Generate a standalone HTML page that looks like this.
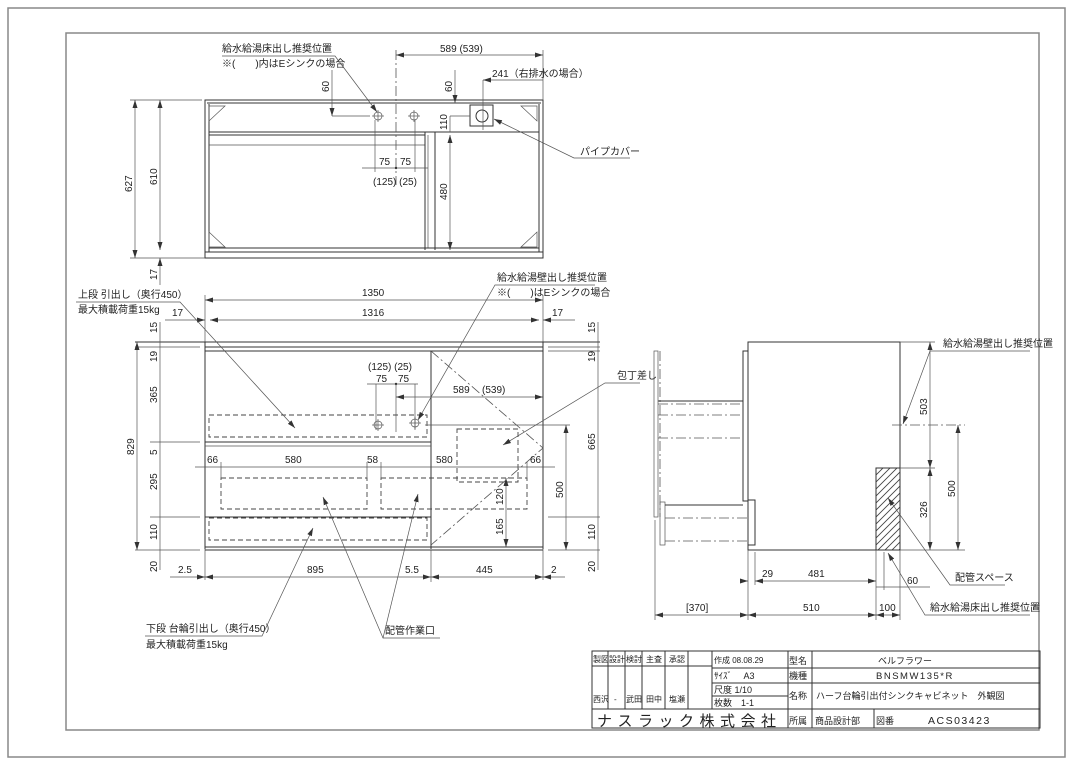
<!DOCTYPE html>
<html><head><meta charset="utf-8"><style>
html,body{margin:0;padding:0;background:#fff;}
svg{display:block;}
text{font-family:"Liberation Sans","Noto Sans CJK JP",sans-serif;font-size:10px;fill:#222;}
.s{stroke:#333;stroke-width:1;fill:none;}
.t{stroke:#555;stroke-width:0.7;fill:none;}
.d{stroke:#444;stroke-width:0.9;fill:none;stroke-dasharray:5,3;}
.dd{stroke:#555;stroke-width:0.8;fill:none;stroke-dasharray:10,3,2,3;}
.g{stroke:#888;stroke-width:1.5;fill:none;}
</style></head><body>
<svg width="1080" height="764" viewBox="0 0 1080 764" xmlns="http://www.w3.org/2000/svg">
<defs>
<marker id="a" markerWidth="8" markerHeight="6" refX="8" refY="3" orient="auto-start-reverse" markerUnits="userSpaceOnUse"><path d="M0,0.5 L8,3 L0,5.5z" fill="#333"/></marker>
<pattern id="h" x="0" y="0" width="7" height="7" patternUnits="userSpaceOnUse"><path d="M0,7 L7,0 M-1,1 L1,-1 M6,8 L8,6" stroke="#444" stroke-width="0.9"/></pattern>
</defs>
<rect x="8" y="8" width="1057" height="749" class="g"/>
<rect x="66" y="33" width="973" height="697" class="g"/>

<!-- ===== TOP VIEW ===== -->
<rect x="205" y="100" width="338" height="158" class="s"/>
<line x1="207" y1="103" x2="541" y2="103" class="s" stroke-width="2"/>
<line x1="209" y1="104" x2="209" y2="252" class="s"/>
<line x1="539" y1="104" x2="539" y2="252" class="s"/>
<line x1="209" y1="132" x2="539" y2="132" class="s"/>
<line x1="209" y1="135" x2="425" y2="135" class="s"/>
<line x1="209" y1="145" x2="425" y2="145" class="t"/>
<line x1="425" y1="132" x2="425" y2="250" class="s"/>
<line x1="428" y1="135" x2="428" y2="248" class="t"/>
<line x1="435" y1="132" x2="435" y2="250" class="s"/>
<line x1="209" y1="248" x2="539" y2="248" class="s"/>
<line x1="205" y1="252" x2="543" y2="252" class="s"/>
<path d="M209,106 L225,106 L209,121z M537,106 L521,106 L537,121z M209,247 L225,247 L209,232z M537,247 L521,247 L537,232z" class="t"/>
<g class="t"><circle cx="378" cy="116" r="4"/><line x1="372" y1="116" x2="384" y2="116"/><line x1="378" y1="110" x2="378" y2="122"/>
<circle cx="414" cy="116" r="4"/><line x1="408" y1="116" x2="420" y2="116"/><line x1="414" y1="110" x2="414" y2="122"/></g>
<rect x="470" y="105" width="23" height="21" class="s"/><circle cx="482" cy="116" r="6" class="s"/>
<line x1="396" y1="50" x2="396" y2="185" class="dd"/>
<line x1="543" y1="50" x2="543" y2="100" class="t"/>
<line x1="396" y1="55" x2="543" y2="55" class="t" marker-start="url(#a)" marker-end="url(#a)"/>
<text x="440" y="52">589 (539)</text>
<line x1="483" y1="80" x2="483" y2="130" class="t"/>
<line x1="483" y1="80" x2="543" y2="80" class="t" marker-start="url(#a)"/>
<text x="492" y="77">241（右排水の場合）</text>
<line x1="332" y1="70" x2="332" y2="116" class="t" marker-end="url(#a)"/>
<line x1="332" y1="116" x2="370" y2="116" class="t"/>
<text transform="translate(329,92) rotate(-90)">60</text>
<line x1="455" y1="70" x2="455" y2="103" class="t" marker-end="url(#a)"/>
<text transform="translate(452,92) rotate(-90)">60</text>
<line x1="450" y1="116" x2="470" y2="116" class="t"/>
<line x1="450" y1="116" x2="450" y2="132" class="t"/>
<text transform="translate(447,130) rotate(-90)">110</text>
<line x1="450" y1="135" x2="450" y2="250" class="t" marker-start="url(#a)" marker-end="url(#a)"/>
<text transform="translate(447,200) rotate(-90)">480</text>
<line x1="375" y1="120" x2="375" y2="172" class="t"/>
<line x1="415" y1="120" x2="415" y2="172" class="t"/>
<line x1="362" y1="168" x2="428" y2="168" class="t"/>
<circle cx="396" cy="168" r="1.2" fill="#333"/>
<text x="379" y="165">75</text><text x="400" y="165">75</text>
<text x="373" y="185">(125) (25)</text>
<text x="222" y="52">給水給湯床出し推奨位置</text>
<text x="222" y="67">※(　　)内はEシンクの場合</text>
<polyline points="222,56 335,56 377,112" class="t" marker-end="url(#a)"/>
<polyline points="630,158 574,158 494,119" class="t" marker-end="url(#a)"/>
<text x="580" y="155">パイプカバー</text>
<line x1="130" y1="100" x2="202" y2="100" class="t"/>
<line x1="130" y1="258" x2="205" y2="258" class="t"/>
<line x1="135" y1="100" x2="135" y2="258" class="t" marker-start="url(#a)" marker-end="url(#a)"/>
<text transform="translate(132,192) rotate(-90)">627</text>
<line x1="160" y1="100" x2="160" y2="250" class="t" marker-start="url(#a)" marker-end="url(#a)"/>
<text transform="translate(157,185) rotate(-90)">610</text>
<line x1="160" y1="258" x2="160" y2="285" class="t" marker-start="url(#a)"/>
<text transform="translate(157,280) rotate(-90)">17</text>

<!-- ===== FRONT VIEW ===== -->
<line x1="205" y1="295" x2="205" y2="580" class="t"/>
<line x1="543" y1="295" x2="543" y2="580" class="t"/>
<line x1="205" y1="300" x2="543" y2="300" class="t" marker-start="url(#a)" marker-end="url(#a)"/>
<text x="362" y="296">1350</text>
<line x1="165" y1="320" x2="205" y2="320" class="t" marker-end="url(#a)"/>
<line x1="210" y1="320" x2="539" y2="320" class="t" marker-start="url(#a)" marker-end="url(#a)"/>
<line x1="543" y1="320" x2="575" y2="320" class="t" marker-start="url(#a)"/>
<text x="172" y="316">17</text><text x="362" y="316">1316</text><text x="552" y="316">17</text>
<line x1="135" y1="342" x2="600" y2="342" class="s" stroke-width="1.5"/>
<line x1="205" y1="347" x2="543" y2="347" class="s"/>
<line x1="135" y1="347" x2="200" y2="347" class="t"/>
<line x1="548" y1="347" x2="600" y2="347" class="t"/>
<line x1="205" y1="351" x2="543" y2="351" class="s"/>
<line x1="205" y1="342" x2="205" y2="549" class="s"/>
<line x1="543" y1="342" x2="543" y2="549" class="s"/>
<line x1="431" y1="351" x2="431" y2="549" class="s"/>
<line x1="205" y1="442" x2="431" y2="442" class="s"/>
<line x1="205" y1="446" x2="431" y2="446" class="t"/>
<line x1="205" y1="517" x2="431" y2="517" class="s"/>
<line x1="205" y1="547" x2="543" y2="547" class="s"/>
<line x1="205" y1="550" x2="543" y2="550" class="s"/>
<line x1="150" y1="442" x2="200" y2="442" class="t"/>
<line x1="150" y1="517" x2="200" y2="517" class="t"/>
<line x1="135" y1="550" x2="200" y2="550" class="t"/>
<line x1="548" y1="517" x2="600" y2="517" class="t"/>
<line x1="548" y1="550" x2="600" y2="550" class="t"/>
<line x1="548" y1="351" x2="600" y2="351" class="t"/>
<rect x="209" y="415" width="218" height="22" class="d"/>
<rect x="221" y="478" width="146" height="31" class="d"/>
<rect x="381" y="478" width="146" height="31" class="d"/>
<rect x="209" y="518" width="218" height="22" class="d"/>
<rect x="457" y="429" width="61" height="53" class="d"/>
<polyline points="431,351 543,448 431,545" class="dd"/>
<line x1="195" y1="467" x2="555" y2="467" class="t"/>
<line x1="221" y1="462" x2="221" y2="480" class="t"/><line x1="367" y1="462" x2="367" y2="480" class="t"/>
<line x1="381" y1="462" x2="381" y2="480" class="t"/><line x1="527" y1="462" x2="527" y2="480" class="t"/>
<text x="207" y="463">66</text><text x="285" y="463">580</text><text x="367" y="463">58</text><text x="436" y="463">580</text><text x="530" y="463">66</text>
<text x="368" y="370">(125) (25)</text>
<text x="376" y="382">75</text><text x="398" y="382">75</text>
<line x1="367" y1="384" x2="418" y2="384" class="t"/>
<circle cx="396" cy="384" r="1.2" fill="#333"/>
<line x1="376" y1="384" x2="376" y2="430" class="t"/>
<line x1="396" y1="384" x2="396" y2="432" class="t"/>
<line x1="415" y1="384" x2="415" y2="430" class="t"/>
<line x1="396" y1="397" x2="543" y2="397" class="t" marker-start="url(#a)" marker-end="url(#a)"/>
<text x="453" y="393">589</text><text x="482" y="393">(539)</text>
<g class="t"><circle cx="378" cy="425" r="4"/><line x1="372" y1="425" x2="384" y2="425"/><line x1="378" y1="419" x2="378" y2="431"/>
<circle cx="415" cy="423" r="4"/><line x1="409" y1="423" x2="421" y2="423"/><line x1="415" y1="417" x2="415" y2="429"/></g>
<line x1="425" y1="425" x2="570" y2="425" class="t"/>
<line x1="566" y1="425" x2="566" y2="550" class="t" marker-start="url(#a)" marker-end="url(#a)"/>
<text transform="translate(563,498) rotate(-90)">500</text>
<line x1="506" y1="478" x2="506" y2="547" class="t" marker-start="url(#a)" marker-end="url(#a)"/>
<text transform="translate(503,505) rotate(-90)">120</text>
<text transform="translate(503,535) rotate(-90)">165</text>
<line x1="137" y1="342" x2="137" y2="550" class="t" marker-start="url(#a)" marker-end="url(#a)"/>
<text transform="translate(134,455) rotate(-90)">829</text>
<line x1="160" y1="322" x2="160" y2="570" class="t"/>
<text transform="translate(157,333) rotate(-90)">15</text>
<text transform="translate(157,362) rotate(-90)">19</text>
<text transform="translate(157,403) rotate(-90)">365</text>
<text transform="translate(157,455) rotate(-90)">5</text>
<text transform="translate(157,490) rotate(-90)">295</text>
<text transform="translate(157,540) rotate(-90)">110</text>
<text transform="translate(157,572) rotate(-90)">20</text>
<line x1="598" y1="322" x2="598" y2="570" class="t"/>
<text transform="translate(595,333) rotate(-90)">15</text>
<text transform="translate(595,362) rotate(-90)">19</text>
<text transform="translate(595,450) rotate(-90)">665</text>
<text transform="translate(595,540) rotate(-90)">110</text>
<text transform="translate(595,572) rotate(-90)">20</text>
<line x1="170" y1="577" x2="205" y2="577" class="t" marker-end="url(#a)"/>
<line x1="205" y1="577" x2="431" y2="577" class="t" marker-start="url(#a)" marker-end="url(#a)"/>
<line x1="431" y1="577" x2="543" y2="577" class="t" marker-start="url(#a)" marker-end="url(#a)"/>
<line x1="543" y1="577" x2="565" y2="577" class="t" marker-start="url(#a)"/>
<line x1="431" y1="550" x2="431" y2="582" class="t"/>
<text x="178" y="573">2.5</text><text x="307" y="573">895</text><text x="405" y="573">5.5</text><text x="476" y="573">445</text><text x="551" y="573">2</text>
<text x="78" y="298">上段 引出し（奥行450）</text>
<text x="78" y="313">最大積載荷重15kg</text>
<polyline points="76,302 180,302 295,428" class="t" marker-end="url(#a)"/>
<text x="497" y="281">給水給湯壁出し推奨位置</text>
<text x="497" y="296">※(　　)はEシンクの場合</text>
<polyline points="595,285 495,285 418,420" class="t" marker-end="url(#a)"/>
<text x="617" y="379">包丁差し</text>
<polyline points="640,383 605,383 503,445" class="t" marker-end="url(#a)"/>
<text x="146" y="632">下段 台輪引出し（奥行450）</text>
<text x="146" y="648">最大積載荷重15kg</text>
<polyline points="145,636 262,636 313,528" class="t" marker-end="url(#a)"/>
<text x="385" y="634">配管作業口</text>
<polyline points="440,638 383,638 323,497" class="t" marker-end="url(#a)"/>
<line x1="383" y1="638" x2="418" y2="494" class="t" marker-end="url(#a)"/>

<!-- ===== SIDE VIEW ===== -->
<rect x="748" y="342" width="152" height="208" class="s"/>
<rect x="876" y="468" width="24" height="82" fill="url(#h)" stroke="#333" stroke-width="1"/>
<rect x="743" y="351" width="5" height="150" class="s"/>
<rect x="748" y="500" width="7" height="45" class="s"/>
<line x1="748" y1="550" x2="748" y2="620" class="t"/>
<line x1="876" y1="550" x2="876" y2="620" class="t"/>
<line x1="900" y1="550" x2="900" y2="620" class="t"/>
<line x1="655" y1="520" x2="655" y2="620" class="t"/>
<rect x="654" y="351" width="4" height="166" class="t"/>
<line x1="660" y1="351" x2="660" y2="517" class="dd"/>
<line x1="658" y1="401" x2="743" y2="401" class="s"/>
<line x1="658" y1="404" x2="743" y2="404" class="dd"/>
<line x1="658" y1="415" x2="743" y2="415" class="dd"/>
<line x1="658" y1="438" x2="743" y2="438" class="dd"/>
<rect x="660" y="502" width="5" height="43" class="t"/>
<line x1="665" y1="505" x2="743" y2="505" class="s"/>
<line x1="665" y1="518" x2="748" y2="518" class="dd"/>
<line x1="665" y1="541" x2="748" y2="541" class="dd"/>
<line x1="900" y1="342" x2="935" y2="342" class="t"/>
<line x1="892" y1="425" x2="965" y2="425" class="dd"/>
<line x1="900" y1="468" x2="935" y2="468" class="t"/>
<line x1="900" y1="550" x2="965" y2="550" class="t"/>
<line x1="930" y1="342" x2="930" y2="468" class="t" marker-start="url(#a)" marker-end="url(#a)"/>
<text transform="translate(927,415) rotate(-90)">503</text>
<line x1="930" y1="468" x2="930" y2="550" class="t" marker-start="url(#a)" marker-end="url(#a)"/>
<text transform="translate(927,518) rotate(-90)">326</text>
<line x1="958" y1="425" x2="958" y2="550" class="t" marker-start="url(#a)" marker-end="url(#a)"/>
<text transform="translate(955,497) rotate(-90)">500</text>
<line x1="740" y1="581" x2="748" y2="581" class="t" marker-end="url(#a)"/>
<line x1="755" y1="581" x2="876" y2="581" class="t" marker-start="url(#a)" marker-end="url(#a)"/>
<line x1="755" y1="552" x2="755" y2="585" class="t"/>
<text x="762" y="577">29</text><text x="808" y="577">481</text>
<line x1="884" y1="552" x2="884" y2="590" class="t"/>
<line x1="876" y1="587" x2="930" y2="587" class="t"/>
<text x="907" y="584">60</text>
<line x1="655" y1="615" x2="748" y2="615" class="t" marker-start="url(#a)" marker-end="url(#a)"/>
<line x1="748" y1="615" x2="876" y2="615" class="t" marker-start="url(#a)" marker-end="url(#a)"/>
<line x1="876" y1="615" x2="900" y2="615" class="t" marker-start="url(#a)" marker-end="url(#a)"/>
<text x="686" y="611">[370]</text><text x="803" y="611">510</text><text x="879" y="611">100</text>
<text x="943" y="347">給水給湯壁出し推奨位置</text>
<polyline points="1030,351 930,351 903,424" class="t" marker-end="url(#a)"/>
<text x="955" y="581">配管スペース</text>
<polyline points="1005,585 950,585 888,498" class="t" marker-end="url(#a)"/>
<text x="930" y="611">給水給湯床出し推奨位置</text>
<polyline points="1030,615 925,615 888,553" class="t" marker-end="url(#a)"/>

<!-- ===== TITLE BLOCK ===== -->
<g class="s" stroke-width="0.9">
<rect x="592" y="651" width="448" height="77"/>
<line x1="592" y1="666" x2="712" y2="666"/>
<line x1="712" y1="668" x2="1040" y2="668"/>
<line x1="712" y1="683" x2="1040" y2="683"/>
<line x1="712" y1="696" x2="788" y2="696"/>
<line x1="592" y1="709" x2="1040" y2="709"/>
<line x1="608" y1="651" x2="608" y2="709"/>
<line x1="625" y1="651" x2="625" y2="709"/>
<line x1="642" y1="651" x2="642" y2="709"/>
<line x1="665" y1="651" x2="665" y2="709"/>
<line x1="688" y1="651" x2="688" y2="709"/>
<line x1="712" y1="651" x2="712" y2="709"/>
<line x1="788" y1="651" x2="788" y2="728"/>
<line x1="812" y1="651" x2="812" y2="728"/>
<line x1="874" y1="709" x2="874" y2="728"/>
</g>
<g style="font-size:8px">
<text x="593" y="662" style="font-size:8px">製図</text><text x="609" y="662" style="font-size:8px">設計</text>
<text x="626" y="662" style="font-size:8px">検討</text><text x="646" y="662" style="font-size:8px">主査</text>
<text x="669" y="662" style="font-size:8px">承認</text><text x="714" y="663" style="font-size:8px">作成 08.08.29</text>
<text x="593" y="702" style="font-size:8px">西沢</text><text x="614" y="702" style="font-size:8px">-</text>
<text x="626" y="702" style="font-size:8px">武田</text><text x="646" y="702" style="font-size:8px">田中</text>
<text x="669" y="702" style="font-size:8px">塩瀬</text>
<text x="714" y="679" style="font-size:9px">ｻｲｽﾞ　 A3</text>
<text x="714" y="693" style="font-size:9px">尺度 1/10</text>
<text x="714" y="706" style="font-size:9px">枚数　1-1</text>
<text x="789" y="664" style="font-size:9px">型名</text>
<text x="789" y="679" style="font-size:9px">機種</text>
<text x="789" y="699" style="font-size:9px">名称</text>
<text x="789" y="724" style="font-size:9px">所属</text>
<text x="878" y="664" style="font-size:9px">ベルフラワー</text>
<text x="876" y="679" style="font-size:9.5px;letter-spacing:1.5px">BNSMW135*R</text>
<text x="816" y="699" style="font-size:9px">ハーフ台輪引出付シンクキャビネット　外観図</text>
<text x="815" y="724" style="font-size:9px">商品設計部</text>
<text x="876" y="724" style="font-size:9px">図番</text>
<text x="928" y="724" style="font-size:10.5px;letter-spacing:1.5px">ACS03423</text>
<text x="597" y="726" style="font-size:15px;letter-spacing:5.5px">ナスラック株式会社</text>
</g>
</svg>
</body></html>
